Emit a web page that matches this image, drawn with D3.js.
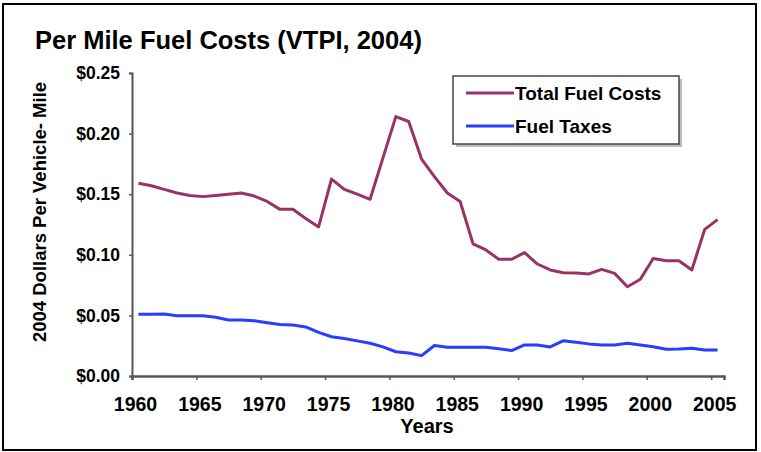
<!DOCTYPE html>
<html>
<head>
<meta charset="utf-8">
<script src="https://cdn.jsdelivr.net/npm/d3@7"></script>
<style>
  html, body { margin: 0; padding: 0; background: #fff; }
  svg { display: block; }
  text { font-family: "Liberation Sans", Arial, Helvetica, sans-serif; font-weight: bold; fill: #000; }
</style>
</head>
<body>
<svg id="chart" width="761" height="452"></svg>
<script>
const years = d3.range(1960, 2006);
const totalFuelCosts = [
  0.159, 0.157, 0.154, 0.151, 0.149, 0.148, 0.149, 0.150, 0.151, 0.1485,
  0.144, 0.1375, 0.1375, 0.130, 0.123, 0.1625, 0.154, 0.150, 0.1458, 0.180,
  0.214, 0.210, 0.179, 0.1645, 0.151, 0.144, 0.109, 0.104, 0.0963, 0.0963,
  0.1018, 0.0924, 0.0875, 0.0852, 0.085, 0.0842, 0.088, 0.0847, 0.0737, 0.0798,
  0.097, 0.0951, 0.0951, 0.0875, 0.121, 0.129
];
const fuelTaxes = [
  0.051, 0.051, 0.0512, 0.0498, 0.0498, 0.0498, 0.0485, 0.0462, 0.0462, 0.0456,
  0.0440, 0.0425, 0.042, 0.0405, 0.036, 0.0324, 0.031, 0.029, 0.027, 0.024,
  0.020, 0.019, 0.0168, 0.0252, 0.0237, 0.0237, 0.0237, 0.0237, 0.0225, 0.021,
  0.0256, 0.0256, 0.024, 0.029, 0.0278, 0.0265, 0.0256, 0.0256, 0.027, 0.0256,
  0.0242, 0.022, 0.0222, 0.0229, 0.0214, 0.0214
];
const xTicks = [1960, 1965, 1970, 1975, 1980, 1985, 1990, 1995, 2000, 2005];
const yTicks = [0, 0.05, 0.10, 0.15, 0.20, 0.25];
const seriesNames = ["Total Fuel Costs", "Fuel Taxes"];
const seriesColors = ["#993366", "#2a3cff"];

const svg = d3.select("#chart");

// outer frame
svg.append("rect").attr("x", 3).attr("y", 4).attr("width", 753).attr("height", 446)
  .attr("fill", "#fff").attr("stroke", "#000").attr("stroke-width", 2);

const x = d3.scaleLinear().domain([1960, 2006]).range([132, 724]);
const y = d3.scaleLinear().domain([0, 0.25]).range([376, 73]);

// title
svg.append("text").attr("x", 35).attr("y", 49).attr("font-size", 25.5)
  .text("Per Mile Fuel Costs (VTPI, 2004)");

// axes
const axisColor = "#555";
const yAxis = svg.append("g").attr("transform", `translate(${x(1960)},0)`)
  .call(d3.axisLeft(y).tickValues(yTicks).tickSize(3).tickPadding(9)
    .tickFormat(d => "$" + d3.format(".2f")(d)));
yAxis.select(".domain").attr("stroke", axisColor).attr("stroke-width", 2);
yAxis.selectAll(".tick line").attr("stroke", axisColor).attr("stroke-width", 1.5);
yAxis.selectAll(".tick text").attr("font-size", 17.5);

const xAxis = svg.append("g").attr("transform", `translate(0,${y(0)})`)
  .call(d3.axisBottom(x).tickValues(xTicks).tickSize(4).tickPadding(17)
    .tickFormat(d3.format("d")));
xAxis.select(".domain").attr("stroke", axisColor).attr("stroke-width", 2.5);
xAxis.selectAll(".tick line").attr("stroke", axisColor).attr("stroke-width", 1.5);
xAxis.selectAll(".tick text").attr("font-size", 19.5).attr("dx", 3);
svg.selectAll("g").attr("font-family", null).attr("font-size", null);

// axis titles
svg.append("text").attr("x", 427).attr("y", 433).attr("text-anchor", "middle")
  .attr("font-size", 20).text("Years");
svg.append("text").attr("transform", "translate(46,212) rotate(-90)")
  .attr("text-anchor", "middle").attr("font-size", 18.5)
  .text("2004 Dollars Per Vehicle- Mile");

// lines
const line = d3.line().x(d => x(d[0] + 0.5)).y(d => y(d[1]));
[totalFuelCosts, fuelTaxes].forEach((vals, i) => {
  svg.append("path")
    .datum(years.map((yr, j) => [yr, vals[j]]))
    .attr("fill", "none").attr("stroke", seriesColors[i])
    .attr("stroke-width", 3).attr("stroke-linejoin", "round")
    .attr("d", line);
});

// legend
const lg = svg.append("g");
lg.append("rect").attr("x", 456).attr("y", 79).attr("width", 226).attr("height", 68)
  .attr("fill", "#bbb");
lg.append("rect").attr("x", 453).attr("y", 76).attr("width", 226).attr("height", 68)
  .attr("fill", "#fff").attr("stroke", "#444").attr("stroke-width", 1.5);
seriesNames.forEach((name, i) => {
  const cy = 93 + i * 33;
  lg.append("line").attr("x1", 466).attr("x2", 514).attr("y1", cy).attr("y2", cy)
    .attr("stroke", seriesColors[i]).attr("stroke-width", 3);
  lg.append("text").attr("x", 515).attr("y", cy + 7).attr("font-size", 19).text(name);
});
</script>
</body>
</html>
